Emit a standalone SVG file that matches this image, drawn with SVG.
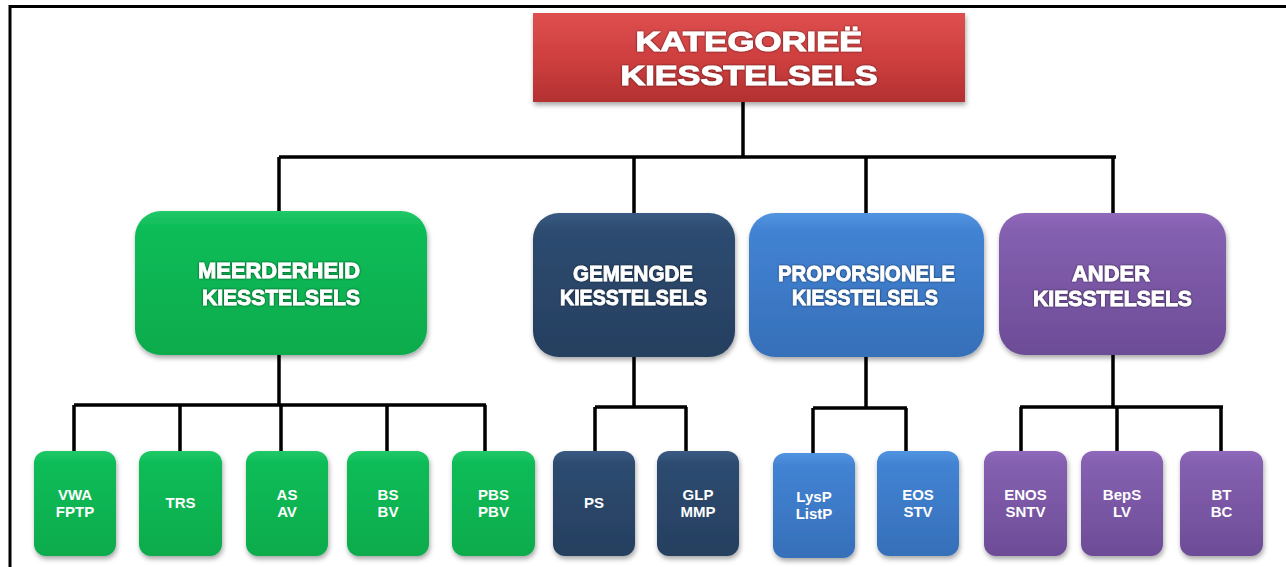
<svg xmlns="http://www.w3.org/2000/svg" width="1286" height="567" viewBox="0 0 1286 567">
<defs>
<linearGradient id="gRed" x1="0" y1="0" x2="0" y2="1"><stop offset="0" stop-color="#de4f4f"/><stop offset="0.5" stop-color="#cf3f3f"/><stop offset="1" stop-color="#b33131"/></linearGradient>
<linearGradient id="gGreen" x1="0" y1="0" x2="0" y2="1"><stop offset="0" stop-color="#22c868"/><stop offset="0.12" stop-color="#0cbc57"/><stop offset="1" stop-color="#07ab4c"/></linearGradient>
<linearGradient id="gNavy" x1="0" y1="0" x2="0" y2="1"><stop offset="0" stop-color="#3a5a82"/><stop offset="0.12" stop-color="#2d4b70"/><stop offset="1" stop-color="#263f60"/></linearGradient>
<linearGradient id="gBlue" x1="0" y1="0" x2="0" y2="1"><stop offset="0" stop-color="#5294e0"/><stop offset="0.12" stop-color="#4283d3"/><stop offset="1" stop-color="#366fb9"/></linearGradient>
<linearGradient id="gPurple" x1="0" y1="0" x2="0" y2="1"><stop offset="0" stop-color="#9068bb"/><stop offset="0.12" stop-color="#8460b0"/><stop offset="1" stop-color="#6d4c97"/></linearGradient>
<filter id="sh" x="-10%" y="-10%" width="125%" height="130%"><feDropShadow dx="1" dy="3" stdDeviation="2.5" flood-color="#000" flood-opacity="0.35"/></filter>
<filter id="tsh" x="-10%" y="-30%" width="120%" height="160%"><feDropShadow dx="0" dy="0" stdDeviation="1.3" flood-color="#000" flood-opacity="0.7"/></filter>
</defs>
<style>
.frame{fill:none;stroke:#000;stroke-width:3}
.con{fill:none;stroke:#000;stroke-width:3.5}
.t1{font-family:"Liberation Sans",Arial,sans-serif;font-weight:bold;font-size:28px;fill:#fff;stroke:#fff;stroke-width:1;text-anchor:middle;filter:url(#tsh)}
.t2{font-family:"Liberation Sans",Arial,sans-serif;font-weight:bold;font-size:22px;fill:#fff;stroke:#fff;stroke-width:0.8;text-anchor:start;filter:url(#tsh)}
.t3{font-family:"Liberation Sans",Arial,sans-serif;font-weight:bold;font-size:15px;fill:#fff;text-anchor:middle}
.box{filter:url(#sh)}
</style>
<path class="frame" d="M10,567 V6.5 H1286"/>
<g id="connectors">
<path class="con" d="M743,102 V157 M279,157 H1116 M279,157 V212 M634,157 V214 M866,157 V214 M1113,157 V214"/>
<path class="con" d="M279,355 V405 M74,405 H486 M74,405 V452 M180,405 V452 M281,405 V452 M387,405 V452 M485,405 V452"/>
<path class="con" d="M634,357 V407 M595,407 H687 M595,407 V452 M686,407 V452"/>
<path class="con" d="M866,357 V408 M813,408 H907 M813,408 V454 M906,408 V452"/>
<path class="con" d="M1113,355 V407 M1020,407 H1223 M1021,407 V452 M1117,407 V452 M1221,407 V452"/>
</g>
<g id="root">
<rect class="box" x="533" y="13" width="432" height="89" fill="url(#gRed)"/>
<text class="t1" x="749" y="51" textLength="227" lengthAdjust="spacingAndGlyphs">KATEGORIEË</text>
<text class="t1" x="749" y="85" textLength="257" lengthAdjust="spacingAndGlyphs">KIESSTELSELS</text>
</g>
<g id="meerderheid">
<rect class="box" x="135" y="211" width="292" height="144" rx="26" fill="url(#gGreen)"/>
<text class="t2" x="198" y="278" textLength="162" lengthAdjust="spacingAndGlyphs">MEERDERHEID</text>
<text class="t2" x="202" y="305" textLength="158" lengthAdjust="spacingAndGlyphs">KIESSTELSELS</text>
</g>
<g id="gemengde">
<rect class="box" x="533" y="213" width="202" height="144" rx="26" fill="url(#gNavy)"/>
<text class="t2" x="573" y="281" textLength="120" lengthAdjust="spacingAndGlyphs">GEMENGDE</text>
<text class="t2" x="560" y="305" textLength="147" lengthAdjust="spacingAndGlyphs">KIESSTELSELS</text>
</g>
<g id="proporsionele">
<rect class="box" x="749" y="213" width="235" height="144" rx="26" fill="url(#gBlue)"/>
<text class="t2" x="778" y="281" textLength="177" lengthAdjust="spacingAndGlyphs">PROPORSIONELE</text>
<text class="t2" x="792" y="305" textLength="146" lengthAdjust="spacingAndGlyphs">KIESSTELSELS</text>
</g>
<g id="ander">
<rect class="box" x="999" y="213" width="227" height="142" rx="26" fill="url(#gPurple)"/>
<text class="t2" x="1072" y="281" textLength="78" lengthAdjust="spacingAndGlyphs">ANDER</text>
<text class="t2" x="1033" y="306" textLength="159" lengthAdjust="spacingAndGlyphs">KIESSTELSELS</text>
</g>
<g id="vwa"><rect class="box" x="34" y="451" width="82" height="105" rx="12" fill="url(#gGreen)"/><text class="t3" x="75" y="500">VWA</text><text class="t3" x="75" y="517">FPTP</text></g>
<g id="trs"><rect class="box" x="139" y="451" width="83" height="105" rx="12" fill="url(#gGreen)"/><text class="t3" x="180.5" y="508">TRS</text></g>
<g id="as"><rect class="box" x="246" y="451" width="82" height="105" rx="12" fill="url(#gGreen)"/><text class="t3" x="287" y="500">AS</text><text class="t3" x="287" y="517">AV</text></g>
<g id="bs"><rect class="box" x="347" y="451" width="82" height="105" rx="12" fill="url(#gGreen)"/><text class="t3" x="388" y="500">BS</text><text class="t3" x="388" y="517">BV</text></g>
<g id="pbs"><rect class="box" x="452" y="451" width="83" height="105" rx="12" fill="url(#gGreen)"/><text class="t3" x="493.5" y="500">PBS</text><text class="t3" x="493.5" y="517">PBV</text></g>
<g id="ps"><rect class="box" x="553" y="451" width="82" height="105" rx="12" fill="url(#gNavy)"/><text class="t3" x="594" y="508">PS</text></g>
<g id="glp"><rect class="box" x="657" y="451" width="82" height="105" rx="12" fill="url(#gNavy)"/><text class="t3" x="698" y="500">GLP</text><text class="t3" x="698" y="517">MMP</text></g>
<g id="lysp"><rect class="box" x="773" y="453" width="82" height="105" rx="12" fill="url(#gBlue)"/><text class="t3" x="814" y="502">LysP</text><text class="t3" x="814" y="519">ListP</text></g>
<g id="eos"><rect class="box" x="877" y="451" width="82" height="105" rx="12" fill="url(#gBlue)"/><text class="t3" x="918" y="500">EOS</text><text class="t3" x="918" y="517">STV</text></g>
<g id="enos"><rect class="box" x="984" y="451" width="83" height="105" rx="12" fill="url(#gPurple)"/><text class="t3" x="1025.5" y="500">ENOS</text><text class="t3" x="1025.5" y="517">SNTV</text></g>
<g id="beps"><rect class="box" x="1081" y="451" width="82" height="105" rx="12" fill="url(#gPurple)"/><text class="t3" x="1122" y="500">BepS</text><text class="t3" x="1122" y="517">LV</text></g>
<g id="bt"><rect class="box" x="1180" y="451" width="83" height="105" rx="12" fill="url(#gPurple)"/><text class="t3" x="1221.5" y="500">BT</text><text class="t3" x="1221.5" y="517">BC</text></g>
</svg>
